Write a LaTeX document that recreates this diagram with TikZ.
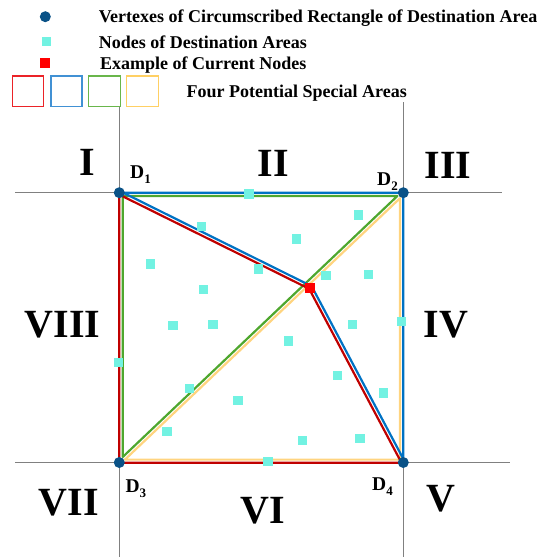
\documentclass[tikz,border=0pt]{standalone}
\usepackage{fontspec}
\setmainfont{Liberation Serif}
\usetikzlibrary{calc}
\definecolor{gridgray}{RGB}{128,128,128}
\definecolor{vtxblue}{RGB}{10,82,135}
\definecolor{cyannode}{RGB}{114,242,226}
\definecolor{curred}{RGB}{255,0,0}
\definecolor{lred}{RGB}{192,0,0}
\definecolor{lblue}{RGB}{0,114,196}
\definecolor{lgreen}{RGB}{78,167,46}
\definecolor{lyellow}{RGB}{255,212,127}
\definecolor{kred}{RGB}{235,35,40}
\definecolor{kblue}{RGB}{65,145,212}
\definecolor{kgreen}{RGB}{105,182,75}
\definecolor{kyellow}{RGB}{255,208,100}
\newcommand\mkD[1]{{\fontsize{19.5}{20}\selectfont\bfseries D}\raisebox{-5.5pt}{\fontsize{13}{13}\selectfont\bfseries #1}}
\begin{document}
\begin{tikzpicture}[x=1pt,y=-1pt,
  gridline/.style={gridgray, line width=1.3pt},
  zone/.style={line width=2.2pt, line join=round},
  dest/.style={rectangle, fill=cyannode, draw=none, minimum size=9.5pt, inner sep=0pt},
  cur/.style={rectangle, fill=curred, draw=none, minimum size=10pt, inner sep=0pt},
  vtx/.style={circle, fill=vtxblue, draw=none, minimum size=11pt, inner sep=0pt},
  numeral/.style={font=\fontsize{40}{40}\selectfont\bfseries, anchor=base, inner sep=0pt},
  dlab/.style={anchor=base west, inner sep=0pt},
  legtext/.style={font=\fontsize{18}{18}\selectfont\bfseries, anchor=base west, inner sep=0pt},
  legbox/.style={rectangle, line width=1.3pt, fill=none, inner sep=0pt, minimum height=30.7pt}]
\useasboundingbox (0,0) rectangle (543,557);
% grid lines
\coordinate (hTa) at (15,192.7);   \coordinate (hTb) at (502,192.7);
\coordinate (hBa) at (15,462.5);   \coordinate (hBb) at (510,462.5);
\coordinate (vLa) at (119.3,106);  \coordinate (vLb) at (119.3,557);
\coordinate (vRa) at (403.3,102);  \coordinate (vRb) at (403.3,557);
\draw[gridline] (hTa) -- (hTb);
\draw[gridline] (hBa) -- (hBb);
\draw[gridline] (vLa) -- (vLb);
\draw[gridline] (vRa) -- (vRb);
% polygon corners
\coordinate (y2) at (400,198.2);   \coordinate (y4) at (400,459.6);   \coordinate (y3) at (124.9,459.6);
\coordinate (g1) at (122.8,196);   \coordinate (g2) at (397.4,196);   \coordinate (g3) at (122.8,456.9);
\coordinate (b1) at (123.1,192.7); \coordinate (b2) at (403.3,192.7); \coordinate (b4) at (403.3,458.9); \coordinate (bp) at (311.65,286.22);
\coordinate (r1) at (119.3,194.6); \coordinate (rp) at (309.15,288.78); \coordinate (r4) at (401.5,462.8); \coordinate (r3) at (119.3,462.8);
\draw[zone, lyellow] (y2) -- (y4) -- (y3) -- cycle;
\draw[zone, lgreen] (g1) -- (g2) -- (g3) -- cycle;
\draw[zone, lblue] (b1) -- (b2) -- (b4) -- (bp) -- cycle;
\draw[zone, lred] (r1) -- (rp) -- (r4) -- (r3) -- cycle;
% destination nodes
\node[dest] (n1) at (249,194) {};
\node[dest] (n2) at (201.7,226.7) {};
\node[dest] (n3) at (358.7,215) {};
\node[dest] (n4) at (296.7,239) {};
\node[dest] (n5) at (150.7,264) {};
\node[dest] (n6) at (258.7,269) {};
\node[dest] (n7) at (326,275.7) {};
\node[dest] (n8) at (368.7,274.7) {};
\node[dest] (n9) at (203.7,289.7) {};
\node[dest] (n10) at (173,325.7) {};
\node[dest] (n11) at (213,324.7) {};
\node[dest] (n12) at (352.3,324.7) {};
\node[dest] (n13) at (401.7,321.5) {};
\node[dest] (n14) at (288.7,341) {};
\node[dest] (n15) at (118.3,362.3) {};
\node[dest] (n16) at (337.7,375.3) {};
\node[dest] (n17) at (189.3,388.3) {};
\node[dest] (n18) at (383.7,393) {};
\node[dest] (n19) at (238,400.3) {};
\node[dest] (n20) at (167,431.3) {};
\node[dest] (n21) at (302.3,440.3) {};
\node[dest] (n22) at (360,438.3) {};
\node[dest] (n23) at (268,461.7) {};
% current node
\node[cur] (P) at (310.4,287.5) {};
% vertexes
\node[vtx] (D1) at (119.3,192.7) {};
\node[vtx] (D2) at (403.3,192.7) {};
\node[vtx] (D3) at (119.3,462.5) {};
\node[vtx] (D4) at (403.3,462.5) {};
% vertex labels
\node[dlab] (lD1) at (130,178.3) {\mkD{1}};
\node[dlab] (lD2) at (377,185) {\mkD{2}};
\node[dlab] (lD3) at (125.4,492.3) {\mkD{3}};
\node[dlab] (lD4) at (372,490) {\mkD{4}};
% region numerals
\node[numeral] (rI) at (87,175) {I};
\node[numeral] (rII) at (273.5,176.5) {II};
\node[numeral] (rIII) at (448,178.3) {III};
\node[numeral] (rIV) at (446,337.7) {IV};
\node[numeral] (rV) at (441,511.7) {V};
\node[numeral] (rVI) at (263,523.3) {VI};
\node[numeral] (rVII) at (69,515.7) {VII};
\node[numeral] (rVIII) at (62.5,337.7) {VIII};
% legend
\node[vtx] (legV) at (45.3,16.7) {};
\node[dest] (legN) at (46.3,41.7) {};
\node[cur] (legC) at (45.3,63) {};
\node[legtext] (legVt) at (98.6,22.7) {Vertexes of Circumscribed Rectangle of Destination Area};
\node[legtext] (legNt) at (98.6,48.3) {Nodes of Destination Areas};
\node[legtext] (legCt) at (100,69) {Example of Current Nodes};
\node[legbox, draw=kred, minimum width=31pt] (kR) at (28,91.3) {};
\node[legbox, draw=kblue, minimum width=31pt] (kB) at (66.4,91.3) {};
\node[legbox, draw=kgreen, minimum width=32pt] (kG) at (104.2,91.3) {};
\node[legbox, draw=kyellow, minimum width=32pt] (kY) at (142.5,91.3) {};
\node[legtext] (legAt) at (186.4,97.3) {Four Potential Special Areas};
\end{tikzpicture}
\end{document}
